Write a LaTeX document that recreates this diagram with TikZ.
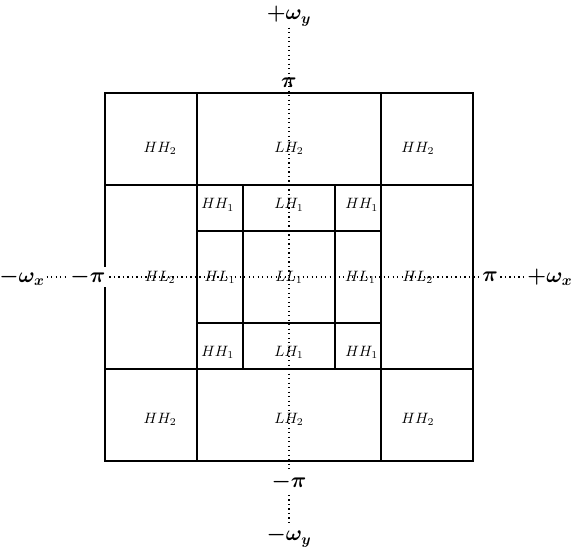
\documentclass[tikz,border=0pt]{standalone}
\usepackage{amsmath, amssymb}
\usepackage{tikz}
\usepackage{xcolor}

\begin{document}
\begin{tikzpicture}[x=1.08cm, y=1.08cm, every node/.style={font=\normalsize},
  axislabel/.style={font=\Large\boldmath, fill=white, inner sep=1pt},
  axis/.style={line width=0.8pt, dash pattern=on 0.8pt off 2.2pt},
  band/.style={line width=0.9pt}]
  \useasboundingbox (-6.28,-5.87) rectangle (6.28,6.02);
  % axis labels
  \node[axislabel] (wxm) at (-5.8,0) {$-\omega_x$};
  \node[axislabel] (wxp) at (5.67,0) {$+\omega_x$};
  \node[axislabel] (wyp) at (0,5.67) {$+\omega_y$};
  \node[axislabel] (wym) at (0,-5.65) {$-\omega_y$};
  % frequency axes
  \draw[axis] (wxm) -- (wxp);
  \draw[axis] (wyp) -- (wym);
  % level 2 bands
  \draw[band] (-4,-4) rectangle (4,4);
  \draw[band] (-4,2) -- (4,2);
  \draw[band] (-4,-2) -- (4,-2);
  \draw[band] (-2,-4) -- (-2,4);
  \draw[band] (2,-4) -- (2,4);
  % level 1 bands
  \draw[band] (-2,1) -- (2,1);
  \draw[band] (-2,-1) -- (2,-1);
  \draw[band] (-1,-2) -- (-1,2);
  \draw[band] (1,-2) -- (1,2);
  % band edges
  \node[axislabel] (pxm) at (-4.37,0) {$-\pi$};
  \node[axislabel] (pxp) at (4.37,0) {$\pi$};
  \node[axislabel, fill=none] (pyp) at (0,4.22) {$\pi$};
  \node[axislabel] (pym) at (0,-4.45) {$-\pi$};
  % level 2 labels
  \node (hh2a) at (-2.8,2.8) {$HH_2$};
  \node (lh2a) at (0,2.8) {$LH_2$};
  \node (hh2b) at (2.8,2.8) {$HH_2$};
  \node (hl2a) at (-2.8,0) {$HL_2$};
  \node (hl2b) at (2.8,0) {$HL_2$};
  \node (hh2c) at (-2.8,-3.1) {$HH_2$};
  \node (lh2b) at (0,-3.1) {$LH_2$};
  \node (hh2d) at (2.8,-3.1) {$HH_2$};
  % level 1 labels
  \node (hh1a) at (-1.55,1.57) {$HH_1$};
  \node (lh1a) at (0,1.57) {$LH_1$};
  \node (hh1b) at (1.58,1.57) {$HH_1$};
  \node (hl1a) at (-1.5,0) {$HL_1$};
  \node (ll1) at (0,0) {$LL_1$};
  \node (hl1b) at (1.55,0) {$HL_1$};
  \node (hh1c) at (-1.55,-1.63) {$HH_1$};
  \node (lh1b) at (0,-1.63) {$LH_1$};
  \node (hh1d) at (1.58,-1.63) {$HH_1$};
\end{tikzpicture}
\end{document}
